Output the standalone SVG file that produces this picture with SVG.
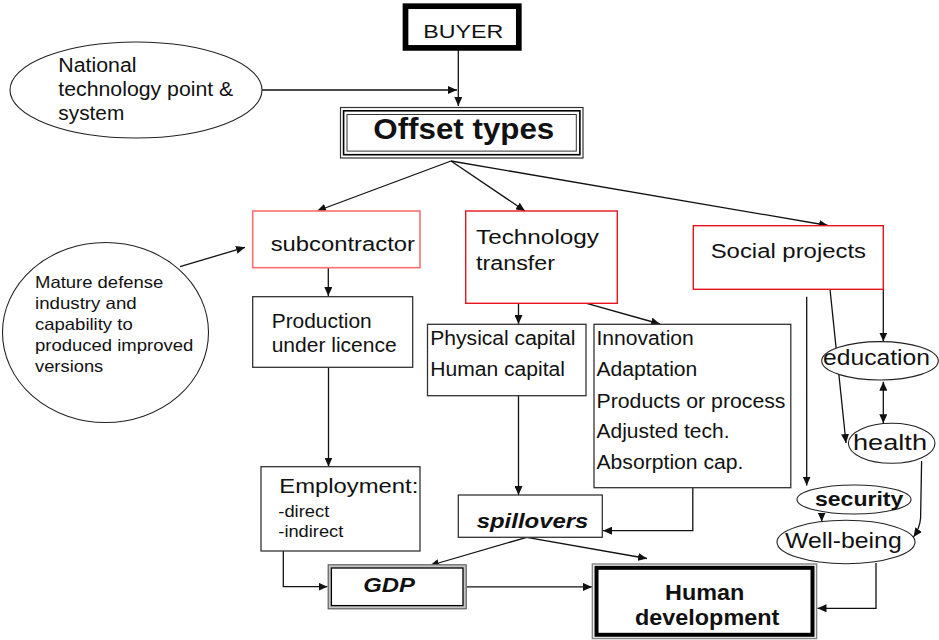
<svg xmlns="http://www.w3.org/2000/svg" width="939" height="640" viewBox="0 0 939 640">
  <style>
    text { font-family: "Liberation Sans", Arial, Helvetica, sans-serif; fill: #111; }
    .t20 { font-size: 20px; }
    .t17 { font-size: 16.5px; }
    .t22 { font-size: 22px; }
    .bold { font-weight: bold; }
    .bi { font-weight: bold; font-style: italic; }
    .box { fill: #fff; stroke: #333; stroke-width: 1.3; }
    .redbox { fill: #fff; stroke: #e8141b; stroke-width: 1.4; }
    .pinkbox { fill: #fff; stroke: #ff6f6f; stroke-width: 1.6; }
    .oval { fill: #fff; stroke: #222; stroke-width: 1.1; }
    .conn path, .conn line { fill: none; stroke: #111; stroke-width: 1.3; }
    .arr { marker-end: url(#head); }
  </style>
  <defs>
    <marker id="head" markerUnits="userSpaceOnUse" markerWidth="10" markerHeight="8" refX="9" refY="4" orient="auto-start-reverse">
      <path d="M0,0 L9,4 L0,8 z" fill="#111"/>
    </marker>
  </defs>

  <!-- connectors -->
  <g id="connectors" class="conn">
    <line class="arr" x1="458.3" y1="50" x2="458.3" y2="106"/>
    <line class="arr" x1="262" y1="90" x2="457" y2="90"/>
    <line class="arr" x1="451" y1="161" x2="317" y2="211"/>
    <line class="arr" x1="451" y1="161" x2="525" y2="211"/>
    <line class="arr" x1="451" y1="161" x2="828" y2="225.5"/>
    <line class="arr" x1="180" y1="266.7" x2="245" y2="247.3"/>
    <line class="arr" x1="328.3" y1="267.7" x2="328.3" y2="296"/>
    <line class="arr" x1="518.5" y1="303.3" x2="518.5" y2="324"/>
    <line class="arr" x1="586.7" y1="303.3" x2="660" y2="324"/>
    <line class="arr" x1="328.5" y1="367.3" x2="328.5" y2="466.5"/>
    <line class="arr" x1="518.5" y1="395.7" x2="518.5" y2="495"/>
    <path class="arr" d="M692.8,487.7 V530.7 H603"/>
    <path class="arr" d="M283.3,551 V586.7 H327.5"/>
    <line class="arr" x1="526.7" y1="537.3" x2="430" y2="565.5"/>
    <line class="arr" x1="526.7" y1="537.3" x2="647" y2="558.5"/>
    <line class="arr" x1="466.7" y1="586.9" x2="592" y2="586.9"/>
    <line class="arr" x1="883.3" y1="289.3" x2="883.3" y2="341.5"/>
    <line class="arr" x1="806.7" y1="296.7" x2="806.7" y2="485.5"/>
    <line class="arr" x1="830" y1="289.3" x2="846" y2="443"/>
    <line class="arr" x1="883.3" y1="381.7" x2="883.3" y2="423.3" style="marker-start: url(#head)"/>
    <path class="arr" d="M921.6,461 L920.6,518 Q919.8,528 913.5,537"/>
    <line class="arr" x1="821.7" y1="513" x2="821.7" y2="521.5"/>
    <path class="arr" d="M876,563 V608.3 H817.5"/>
  </g>

  <g id="buyer">
    <rect x="405.5" y="6.2" width="113.3" height="41.7" fill="#fff" stroke="#000" stroke-width="5.7"/>
    <text x="423.3" y="37.7" font-size="19" textLength="80" lengthAdjust="spacingAndGlyphs">BUYER</text>
  </g>

  <g id="national">
    <ellipse class="oval" cx="136" cy="90" rx="126" ry="48"/>
    <text class="t20" x="58.3" y="71.7" textLength="78.3" lengthAdjust="spacingAndGlyphs">National</text>
    <text class="t20" x="58.3" y="96" textLength="175" lengthAdjust="spacingAndGlyphs">technology point &amp;</text>
    <text class="t20" x="58.3" y="120" textLength="66" lengthAdjust="spacingAndGlyphs">system</text>
  </g>

  <g id="offset-types">
    <rect x="340.5" y="107.5" width="242.5" height="50.5" fill="#fff" stroke="#333" stroke-width="1.2"/>
    <rect x="343.6" y="110.8" width="236.3" height="43.9" fill="none" stroke="#000" stroke-width="1.6"/>
    <rect x="347" y="114.5" width="229.3" height="36.6" fill="none" stroke="#333" stroke-width="1"/>
    <text class="bold" x="373.3" y="139.3" font-size="30" textLength="181" lengthAdjust="spacingAndGlyphs">Offset types</text>
  </g>

  <g id="mature-industry">
    <ellipse class="oval" cx="105.5" cy="332.5" rx="103" ry="90"/>
    <text class="t17" x="35" y="288.3" textLength="128.3" lengthAdjust="spacingAndGlyphs">Mature defense</text>
    <text class="t17" x="35" y="308.8" textLength="101.7" lengthAdjust="spacingAndGlyphs">industry and</text>
    <text class="t17" x="35" y="330" textLength="97.7" lengthAdjust="spacingAndGlyphs">capability to</text>
    <text class="t17" x="35" y="351.3" textLength="158.3" lengthAdjust="spacingAndGlyphs">produced improved</text>
    <text class="t17" x="35" y="371.7" textLength="68.3" lengthAdjust="spacingAndGlyphs">versions</text>
  </g>

  <g id="subcontractor">
    <rect class="pinkbox" x="252.7" y="211" width="167.3" height="56.7"/>
    <text class="t20" x="270.7" y="251" textLength="144.3" lengthAdjust="spacingAndGlyphs">subcontractor</text>
  </g>

  <g id="technology-transfer">
    <rect class="redbox" x="465.7" y="211" width="151.6" height="92.3"/>
    <text class="t20" x="476" y="244.3" textLength="123" lengthAdjust="spacingAndGlyphs">Technology</text>
    <text class="t20" x="476" y="270" textLength="79" lengthAdjust="spacingAndGlyphs">transfer</text>
  </g>

  <g id="social-projects">
    <rect class="redbox" x="693.3" y="225.7" width="190" height="63.6"/>
    <text class="t20" x="710.7" y="258.3" textLength="155.3" lengthAdjust="spacingAndGlyphs">Social projects</text>
  </g>

  <g id="production">
    <rect class="box" x="252.7" y="296.7" width="160" height="70.6"/>
    <text class="t20" x="271.7" y="328.3" textLength="100" lengthAdjust="spacingAndGlyphs">Production</text>
    <text class="t20" x="271.7" y="351.7" textLength="125" lengthAdjust="spacingAndGlyphs">under licence</text>
  </g>

  <g id="capital">
    <rect class="box" x="427.5" y="324.3" width="158.5" height="71.4"/>
    <text class="t20" x="430.3" y="345" textLength="145.2" lengthAdjust="spacingAndGlyphs">Physical capital</text>
    <text class="t20" x="430.3" y="376" textLength="134.7" lengthAdjust="spacingAndGlyphs">Human capital</text>
  </g>

  <g id="innovation">
    <rect class="box" x="594" y="324.3" width="196.8" height="163.4"/>
    <text class="t20" x="596.5" y="345" textLength="97.3" lengthAdjust="spacingAndGlyphs">Innovation</text>
    <text class="t20" x="596.5" y="376" textLength="100.8" lengthAdjust="spacingAndGlyphs">Adaptation</text>
    <text class="t20" x="596.5" y="407.7" textLength="189" lengthAdjust="spacingAndGlyphs">Products or process</text>
    <text class="t20" x="596.5" y="438.3" textLength="133" lengthAdjust="spacingAndGlyphs">Adjusted tech.</text>
    <text class="t20" x="596.5" y="469.3" textLength="147" lengthAdjust="spacingAndGlyphs">Absorption cap.</text>
  </g>

  <g id="employment">
    <rect class="box" x="261" y="466.7" width="159" height="84.3"/>
    <text x="279.3" y="493.3" font-size="21" textLength="139" lengthAdjust="spacingAndGlyphs">Employment:</text>
    <text x="278.3" y="516.7" font-size="16.5" textLength="51" lengthAdjust="spacingAndGlyphs">-direct</text>
    <text x="278.3" y="537.3" font-size="16.5" textLength="65" lengthAdjust="spacingAndGlyphs">-indirect</text>
  </g>

  <g id="spillovers">
    <rect class="box" x="458.3" y="495" width="144" height="42.3"/>
    <text class="bi" x="476.7" y="528.3" font-size="21" textLength="111.7" lengthAdjust="spacingAndGlyphs">spillovers</text>
  </g>

  <g id="gdp">
    <rect x="329.5" y="566.1" width="135.4" height="41.4" fill="#fff" stroke="#c4c4c4" stroke-width="3.6"/>
    <rect x="328.2" y="564.8" width="138" height="44" fill="none" stroke="#555" stroke-width="1"/>
    <rect x="331.4" y="568" width="131.6" height="37.6" fill="none" stroke="#000" stroke-width="1.3"/>
    <text class="bi" x="363.3" y="591.7" font-size="20" textLength="51.7" lengthAdjust="spacingAndGlyphs">GDP</text>
  </g>

  <g id="human-development">
    <rect x="592.4" y="564" width="224.2" height="74.5" fill="#fff" stroke="#888" stroke-width="1.5"/>
    <rect x="596.5" y="567.8" width="216" height="67" fill="none" stroke="#000" stroke-width="4"/>
    <text class="bold" x="665" y="600" font-size="22" textLength="79.3" lengthAdjust="spacingAndGlyphs">Human</text>
    <text class="bold" x="635" y="625" font-size="22" textLength="144.3" lengthAdjust="spacingAndGlyphs">development</text>
  </g>

  <g id="education">
    <ellipse class="oval" cx="880" cy="360.8" rx="58.3" ry="19.2"/>
    <text class="t22" x="823" y="365" textLength="107" lengthAdjust="spacingAndGlyphs">education</text>
  </g>

  <g id="health">
    <ellipse class="oval" cx="891.7" cy="443.3" rx="43.3" ry="20"/>
    <text class="t22" x="853" y="450" textLength="74" lengthAdjust="spacingAndGlyphs">health</text>
  </g>

  <g id="security">
    <ellipse class="oval" cx="854" cy="499.5" rx="57" ry="14.5"/>
    <text class="bold" x="815" y="506" font-size="21" textLength="88.3" lengthAdjust="spacingAndGlyphs">security</text>
  </g>

  <g id="well-being">
    <ellipse class="oval" cx="846" cy="542" rx="69" ry="21.7"/>
    <text class="t22" x="785" y="547.5" textLength="116.7" lengthAdjust="spacingAndGlyphs">Well-being</text>
  </g>
</svg>
